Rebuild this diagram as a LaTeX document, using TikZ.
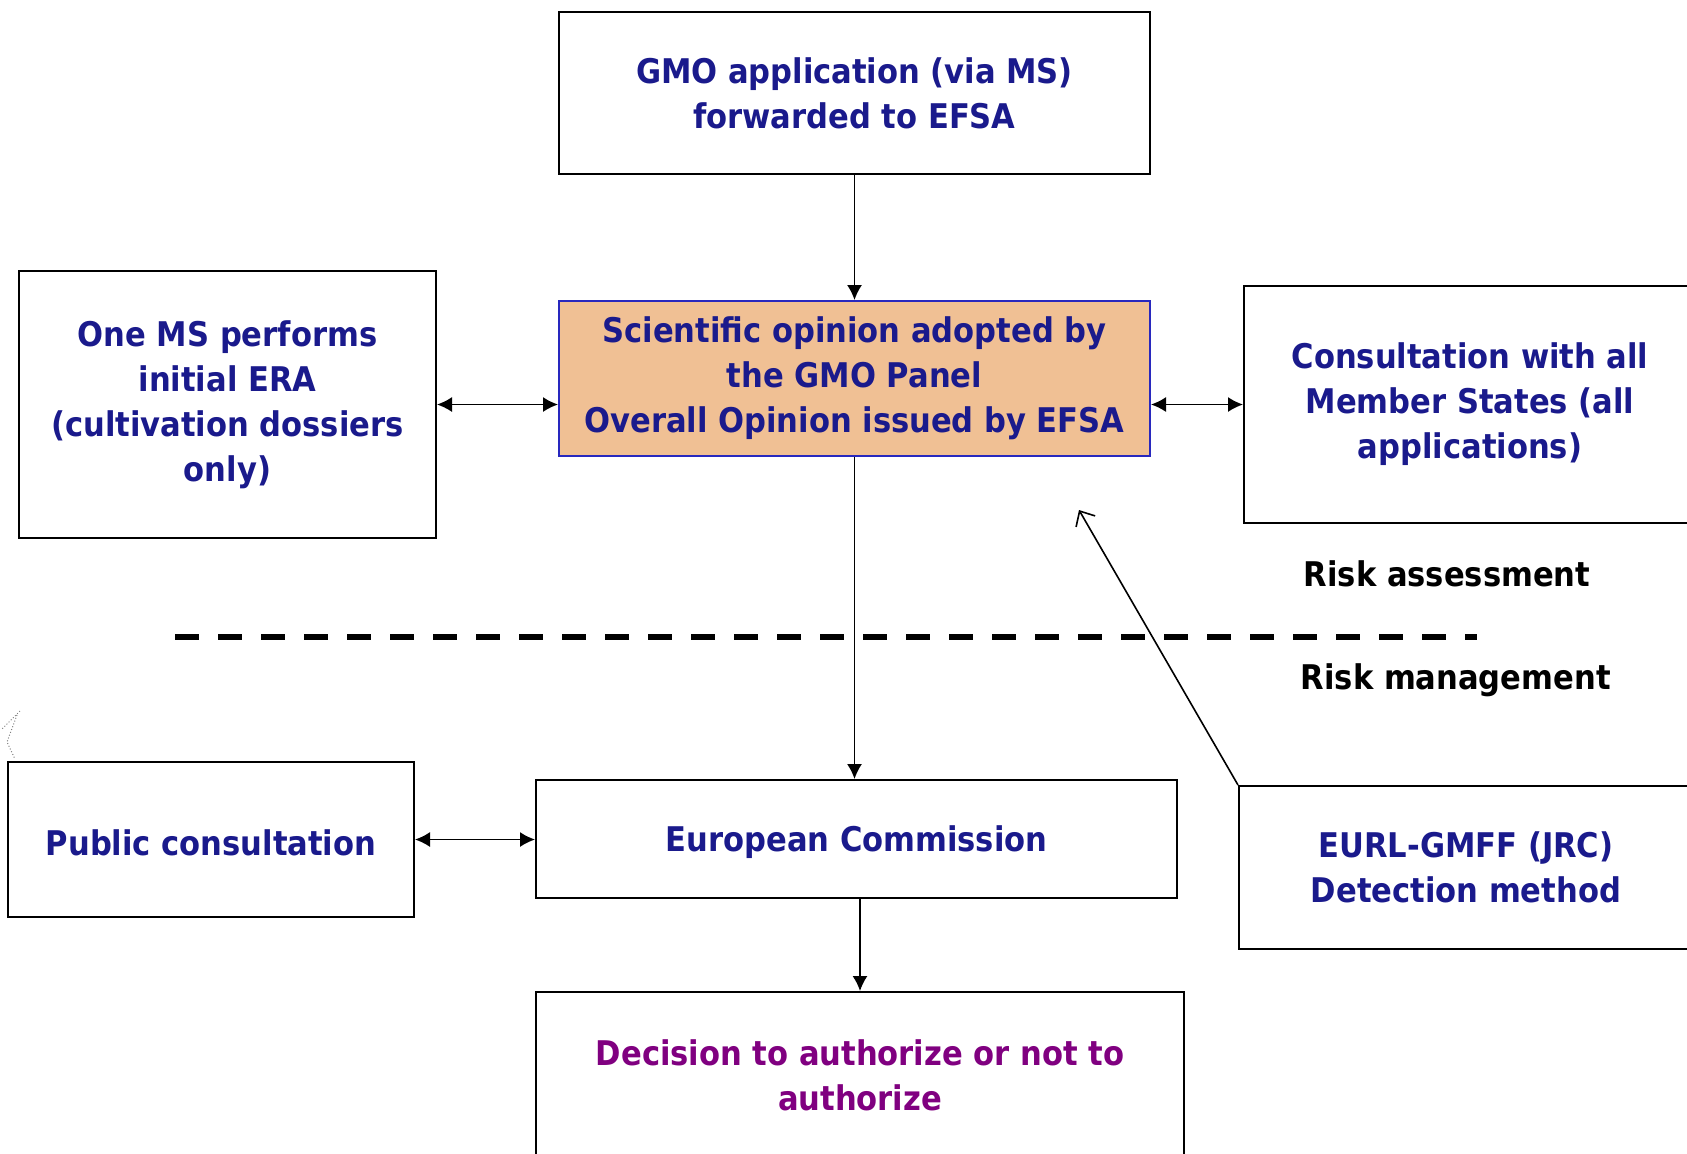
\documentclass[tikz,border=0pt]{standalone}
\usepackage{fontspec}
\setmainfont{DejaVu Sans Condensed}
\usepackage{tikz}
\usetikzlibrary{arrows.meta}
\definecolor{efsablue}{RGB}{26,26,140}
\definecolor{efsapurple}{RGB}{128,0,128}
\definecolor{panelfill}{RGB}{240,192,148}
\definecolor{panelline}{RGB}{40,40,190}

\begin{document}
\begin{tikzpicture}[x=0.5pt,y=-0.5pt,>={Latex[length=7.5pt,width=7.5pt]},line width=0.8pt]
		\tikzstyle{box}=[draw=black,line width=1pt,align=center,inner sep=0pt,text=efsablue,font=\bfseries\fontsize{17}{22.5}\selectfont,execute at begin node={\rule{0pt}{16.5pt}}]
		\tikzstyle{panel}=[box,fill=panelfill,draw=panelline]
		\tikzstyle{zone}=[anchor=west,inner sep=0pt,font=\bfseries\fontsize{17}{22.5}\selectfont]
		\clip (0,0) rectangle (1687,1153);
		\useasboundingbox (0,0) rectangle (1687,1153);
		
		\node[box,minimum width=295.5pt,minimum height=81pt] (gmo) at (854.5,93) {GMO application (via MS)\\forwarded to EFSA};
		\node[panel,minimum width=295.5pt,minimum height=77.5pt] (sci) at (854.5,378.5) {Scientific opinion adopted by\\the GMO Panel\\Overall Opinion issued by EFSA};
		\node[box,minimum width=208.5pt,minimum height=133.5pt] (era) at (227.5,404.5) {One MS performs\\initial ERA\\(cultivation dossiers\\only)};
		\node[box,minimum width=226pt,minimum height=118.5pt] (cons) at (1470,404.5) {Consultation with all\\Member States (all\\applications)};
		\node[box,minimum width=203pt,minimum height=77.5pt] (pub) at (211,839.5) {Public consultation};
		\node[box,minimum width=320.5pt,minimum height=59pt] (ec) at (856.5,839) {European Commission};
		\node[box,minimum width=227pt,minimum height=81.5pt] (eurl) at (1466,867.5) {EURL-GMFF (JRC)\\Detection method};
		\node[box,minimum width=324pt,minimum height=83pt,text=efsapurple] (dec) at (860,1075) {Decision to authorize or not to\\authorize};
		\node[zone] (ra) at (1303,574) {Risk assessment};
		\node[zone] (rm) at (1300,680) {Risk management};
		\coordinate (hint) at (1079,510);
		
		% risk assessment / risk management border
		\draw[line width=2.8pt,dash pattern=on 12pt off 9.5pt] (175,637) -- (1477,637);
		
		\draw[->] (gmo) -- (sci);
		\draw[<->] (era.east) -- (era.east -| sci.west);
		\draw[<->] (cons.west -| sci.east) -- (cons.west);
		\draw[->] (sci.south) -- (sci.south |- ec.north);
		\draw[<->] (pub.east) -- (pub.east -| ec.west);
		\draw[->] (ec.south -| dec.north) -- (dec.north);
		\draw[-{Straight Barb[length=6pt,width=11pt]}] (eurl.north west) -- (hint);
		
		\draw[gray,line width=0.5pt,densely dotted] (20,711) -- (1,730);
		\draw[gray,line width=0.5pt,densely dotted] (17,715) -- (7,742) -- (15,759);
\end{tikzpicture}
\end{document}
